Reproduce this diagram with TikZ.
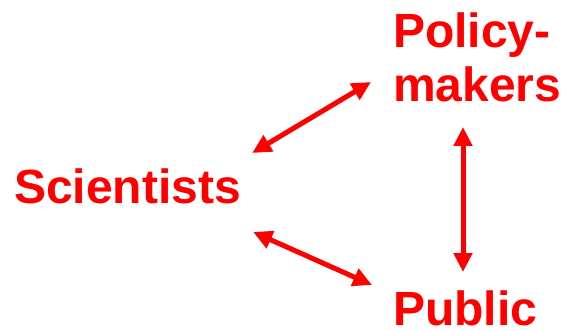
\documentclass[tikz,border=0pt]{standalone}
\usepackage{fontspec}
\setmainfont{Liberation Sans}
\usetikzlibrary{arrows.meta,positioning}

\tikzset{
  label/.style={text=red, font=\fontsize{48}{54}\selectfont\bfseries, inner sep=0pt, anchor=base west, align=left},
  link/.style={draw=red, line width=5pt, {Triangle[length=19pt,width=18pt]}-{Triangle[length=19pt,width=18pt]}}
}

\begin{document}
\begin{tikzpicture}[x=1pt,y=-1pt]
        \useasboundingbox (0,0) rectangle (561,331);

        % Labels
        \node[label] (sci) at (14,203) {Scientists};
        \node[label] (pol) at (393,102) {Policy-\\makers};
        \node[label] (pub) at (393,325) {Public};

        % Arrows between the groups
        \draw[link] ([shift={(11,-50)}]sci.base east) -- ([shift={(-22,-20)}]pol.base west);
        \draw[link] ([shift={(12,29)}]sci.base east) -- ([shift={(-21,-40)}]pub.base west);
        \draw[link] ([shift={(70,25)}]pol.base west) -- ([shift={(70,-53)}]pub.base west);
    \end{tikzpicture}
\end{document}
